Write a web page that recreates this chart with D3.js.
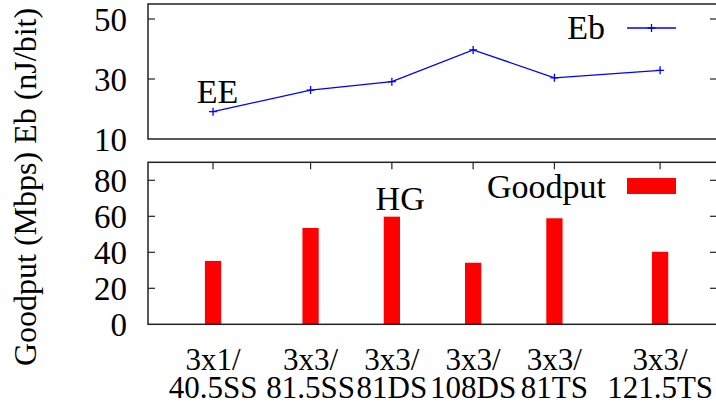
<!DOCTYPE html>
<html>
<head>
<meta charset="utf-8">
<script src="https://cdn.jsdelivr.net/npm/d3@7"></script>
<style>
  body { margin: 0; background: #fff; }
  svg { display: block; }
</style>
</head>
<body>
<div id="chart"></div>
<script>
// configurations on the x axis (two-line tick labels)
const configs = [
  ["3x1/", "40.5SS"],
  ["3x3/", "81.5SS"],
  ["3x3/", "81DS"],
  ["3x3/", "108DS"],
  ["3x3/", "81TS"],
  ["3x3/", "121.5TS"]
];
// x value of each configuration in the original plot
const xValues = [0.8, 2, 3, 4, 5, 6.3];
// energy per bit (nJ/bit)
const ebValues = [19.1, 26.3, 29.1, 39.7, 30.4, 32.9];
// goodput (Mbps)
const goodputValues = [35.2, 53.5, 59.8, 34.2, 58.9, 40.3];
const ebTicks = [10, 30, 50];
const goodputTicks = [0, 20, 40, 60, 80];

const width = 716, height = 406;
const left = 148, right = 717;
const tickFont = 33, labelFont = 31, keyFont = 34;

const svg = d3.select("#chart").append("svg")
  .attr("width", width)
  .attr("height", height);

// every text goes through here so the serif face is set on the element itself
function addText(g, size) {
  return g.append("text")
    .style("font-family", "'Liberation Serif'")
    .style("font-size", size + "px")
    .attr("fill", "#000");
}

const x = d3.scaleLinear().domain([0, 7]).range([left, right]);

const yEb = d3.scaleLinear().domain([10, 55]).range([139, 4]);
const yGp = d3.scaleLinear().domain([0, 90]).range([324.3, 162.3]);

function yTicks(g, scale, ticks) {
  const [y0, y1] = scale.range();
  ticks.forEach(t => {
    const yy = scale(t);
    if (yy < y0 - 1 && yy > y1 + 1) {
      g.append("line").attr("x1", left).attr("x2", left + 7)
        .attr("y1", yy).attr("y2", yy).attr("stroke", "#222").attr("stroke-width", 1.2);
      g.append("line").attr("x1", right - 7).attr("x2", right)
        .attr("y1", yy).attr("y2", yy).attr("stroke", "#222").attr("stroke-width", 1.2);
    }
    addText(g, tickFont)
      .attr("x", 127)
      .attr("y", yy + 12)
      .attr("text-anchor", "end")
      .text(t);
  });
}

function frame(g, scale) {
  const [y0, y1] = scale.range();
  g.append("rect")
    .attr("x", left).attr("y", y1)
    .attr("width", right - left).attr("height", y0 - y1)
    .attr("fill", "none")
    .attr("stroke", "#222")
    .attr("stroke-width", 1.5);
}

// ---- top panel: Eb line ----
const topPanel = svg.append("g");
yTicks(topPanel, yEb, ebTicks);

const line = d3.line()
  .x((d, i) => x(xValues[i]))
  .y(d => yEb(d));

topPanel.append("path")
  .datum(ebValues)
  .attr("d", line)
  .attr("fill", "none")
  .attr("stroke", "#0000ff")
  .attr("stroke-width", 1.3);

topPanel.selectAll(".pt")
  .data(ebValues)
  .join("path")
  .attr("class", "pt")
  .attr("d", "M-4,0H4M0,-4V4")
  .attr("transform", (d, i) => `translate(${x(xValues[i])},${yEb(d)})`)
  .attr("stroke", "#0000ff")
  .attr("stroke-width", 1.3);

addText(topPanel, keyFont)
  .attr("x", x(0.6))
  .attr("y", yEb(22))
  .text("EE");

// legend
addText(topPanel, keyFont)
  .attr("x", 605).attr("y", 39)
  .attr("text-anchor", "end")
  .text("Eb");
topPanel.append("line")
  .attr("x1", 627).attr("x2", 676)
  .attr("y1", 28).attr("y2", 28)
  .attr("stroke", "#0000ff").attr("stroke-width", 1.3);
topPanel.append("path")
  .attr("d", "M-4,0H4M0,-4V4")
  .attr("transform", "translate(651.5,28)")
  .attr("stroke", "#0000ff").attr("stroke-width", 1.3);

frame(topPanel, yEb);

// ---- bottom panel: Goodput bars ----
const botPanel = svg.append("g");
yTicks(botPanel, yGp, goodputTicks);

// x ticks (bottom and mirrored top)
xValues.forEach(v => {
  botPanel.append("line").attr("x1", x(v)).attr("x2", x(v))
    .attr("y1", yGp.range()[1]).attr("y2", yGp.range()[1] + 7)
    .attr("stroke", "#222").attr("stroke-width", 1.2);
  botPanel.append("line").attr("x1", x(v)).attr("x2", x(v))
    .attr("y1", yGp.range()[0]).attr("y2", yGp.range()[0] - 7)
    .attr("stroke", "#222").attr("stroke-width", 1.2);
});

const barW = x(0.2) - x(0);
botPanel.selectAll(".bar")
  .data(goodputValues)
  .join("rect")
  .attr("class", "bar")
  .attr("x", (d, i) => x(xValues[i]) - barW / 2)
  .attr("y", d => yGp(d))
  .attr("width", barW)
  .attr("height", d => yGp(0) - yGp(d))
  .attr("fill", "#ff0000");

addText(botPanel, keyFont)
  .attr("x", x(2.8))
  .attr("y", yGp(63.5))
  .text("HG");

// legend
addText(botPanel, keyFont)
  .attr("x", 606).attr("y", 198)
  .attr("text-anchor", "end")
  .text("Goodput");
botPanel.append("rect")
  .attr("x", 627).attr("y", 178)
  .attr("width", 49).attr("height", 16)
  .attr("fill", "#ff0000");

frame(botPanel, yGp);

// x tick labels, one text per line
const labels = svg.append("g");
configs.forEach((c, i) => {
  c.forEach((txt, k) => {
    addText(labels, labelFont)
      .attr("x", x(xValues[i]))
      .attr("y", 370 + k * 28)
      .attr("text-anchor", "middle")
      .text(txt);
  });
});

// y axis label
addText(svg, 32)
  .attr("transform", "translate(36,187) rotate(-90)")
  .attr("text-anchor", "middle")
  .text("Goodput (Mbps) Eb (nJ/bit)");
</script>
</body>
</html>
